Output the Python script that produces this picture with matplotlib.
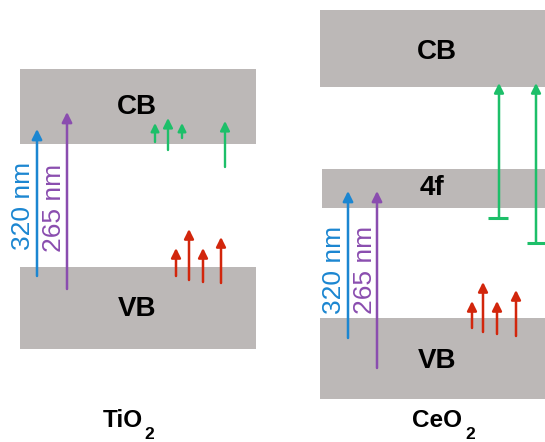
import matplotlib.pyplot as plt
from matplotlib.patches import Rectangle

plt.rcParams['font.family'] = ['Liberation Sans', 'DejaVu Sans']

# ---- diagram data (pixel-like canvas units, y grows downward) ----
band_x0 = [20, 20, 320, 322, 320]
band_x1 = [256, 256, 545, 545, 545]
band_top = [69, 267, 10, 169, 318]
band_bot = [144, 349, 87, 208, 399]
band_labels = ['CB', 'VB', 'CB', '4f', 'VB']
band_label_x = [137, 137, 437, 432, 437]
band_label_y = [107, 309, 52, 188, 361]

# excitation arrows (320 nm blue, 265 nm purple)
exc_x = [37, 67, 348, 377]
exc_base = [276, 289, 338, 368]
exc_tip = [129, 112, 191, 191]
exc_color = ['#1b86d1', '#8a4daf', '#1b86d1', '#8a4daf']
exc_text = ['320 nm', '265 nm', '320 nm', '265 nm']
exc_text_x = [23, 54, 334, 365]
exc_text_y = [206, 208, 270, 270]

# small green arrows (electrons) in TiO2
green_x = [155, 168, 182, 225]
green_base = [142, 150, 138, 167]
green_tip = [123, 118, 123, 121]

# green arrows with flat base in CeO2
ce_green_x = [499, 536]
ce_green_base = [218, 243]
ce_green_tip = [83, 83]
ce_bar_x0 = [488, 527]
ce_bar_x1 = [508, 545]

# red arrows (holes)
red_x = [176, 189, 203, 221, 472, 483, 497, 516]
red_base = [276, 280, 282, 283, 328, 332, 334, 336]
red_tip = [248, 229, 248, 237, 301, 282, 301, 290]

# material labels: main part + subscript
title_main = ['TiO', 'CeO']
title_sub = ['2', '2']
title_x = [103, 412]
title_sub_x = [144, 465]

GRAY = '#bcb8b7'
GREEN = '#1dbf69'
RED = '#d2260c'

fig = plt.figure(figsize=(5.45, 4.42), dpi=100)
ax = fig.add_axes([0, 0, 1, 1])
ax.set_xlim(0, 545)
ax.set_ylim(442, 0)
ax.axis('off')

for x0, x1, t, b, lab, lx, ly in zip(band_x0, band_x1, band_top, band_bot,
                                     band_labels, band_label_x, band_label_y):
    ax.add_patch(Rectangle((x0, t), x1 - x0, b - t, facecolor=GRAY,
                           edgecolor='none', zorder=1))
    ax.text(lx, ly, lab, ha='center', va='center', fontsize=20,
            fontweight='bold', color='black', zorder=3)


def arrow(x, base, tip, color, lw=1.7, scale=13):
    ax.annotate('', xy=(x, tip), xytext=(x, base),
                arrowprops=dict(arrowstyle='-|>', color=color, lw=lw,
                                shrinkA=0, shrinkB=0, mutation_scale=scale),
                zorder=4)


for x, b, t, c in zip(exc_x, exc_base, exc_tip, exc_color):
    arrow(x, b, t, c, lw=1.8, scale=15)
for s, tx, ty, c in zip(exc_text, exc_text_x, exc_text_y, exc_color):
    ax.text(tx, ty, s, rotation=90, ha='center', va='center',
            fontsize=19, color=c, zorder=3)

for x, b, t in zip(green_x, green_base, green_tip):
    big = (b - t) > 22
    arrow(x, b, t, GREEN, lw=1.7, scale=14 if big else 12)

for x, b, t, bx0, bx1 in zip(ce_green_x, ce_green_base, ce_green_tip,
                             ce_bar_x0, ce_bar_x1):
    arrow(x, b, t, GREEN, lw=1.8, scale=14)
    ax.plot([bx0, bx1], [b, b], color=GREEN, lw=2.2, solid_capstyle='butt',
            zorder=4)

for x, b, t in zip(red_x, red_base, red_tip):
    arrow(x, b, t, RED, lw=1.8, scale=14)

for m, s, tx, sx in zip(title_main, title_sub, title_x, title_sub_x):
    ax.text(tx, 427, m, ha='left', va='baseline', fontsize=17.5,
            fontweight='bold', color='black')
    ax.text(sx, 439, s, ha='left', va='baseline', fontsize=12.5,
            fontweight='bold', color='black')

fig.savefig('out.png', dpi=100)
